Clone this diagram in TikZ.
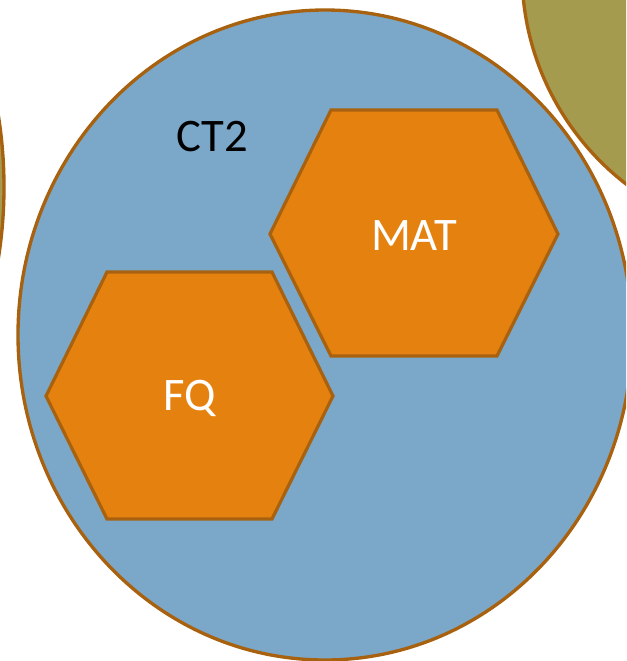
\documentclass[tikz,border=0pt]{standalone}
\usepackage{fontspec}
\setmainfont{Carlito}
\begin{document}
\definecolor{edge}{HTML}{A8620F}
\definecolor{setblue}{HTML}{7BA7C9}
\definecolor{hexorange}{HTML}{E5820F}
\definecolor{olive}{HTML}{A59B4E}
\begin{tikzpicture}[x=0.75pt,y=-0.75pt,
  blob/.style={draw=edge,line width=2.5pt},
  hexa/.style={draw=edge,fill=hexorange,line width=2.4pt,line join=miter},
  lbl/.style={font=\fontsize{35pt}{40pt}\selectfont,inner sep=0pt}]
\useasboundingbox (0,0) rectangle (626,661);
\clip (0,0) rectangle (626,661);
% neighbouring sets, only partly in view
\draw[blob,fill=olive] (790,-28) circle[radius=268];
\draw[blob,fill=olive] (-446,187) circle[radius=450];
% the CT2 set
\draw[blob,fill=setblue] (325,335) ellipse[x radius=307,y radius=325];
\node[lbl,text=black] (ct2) at (212,137) {CT2};
% hexagonal subsets
\draw[hexa] (270,234) -- (331,110) -- (497,110) -- (558,234) -- (497,356) -- (331,356) -- cycle;
\draw[hexa] (46,396) -- (107,272) -- (272,272) -- (333,396) -- (272,519) -- (107,519) -- cycle;
\node[lbl,text=white] (mat) at (414,236) {MAT};
\node[lbl,text=white] (fq) at (190,398) {FQ};
\end{tikzpicture}
\end{document}
